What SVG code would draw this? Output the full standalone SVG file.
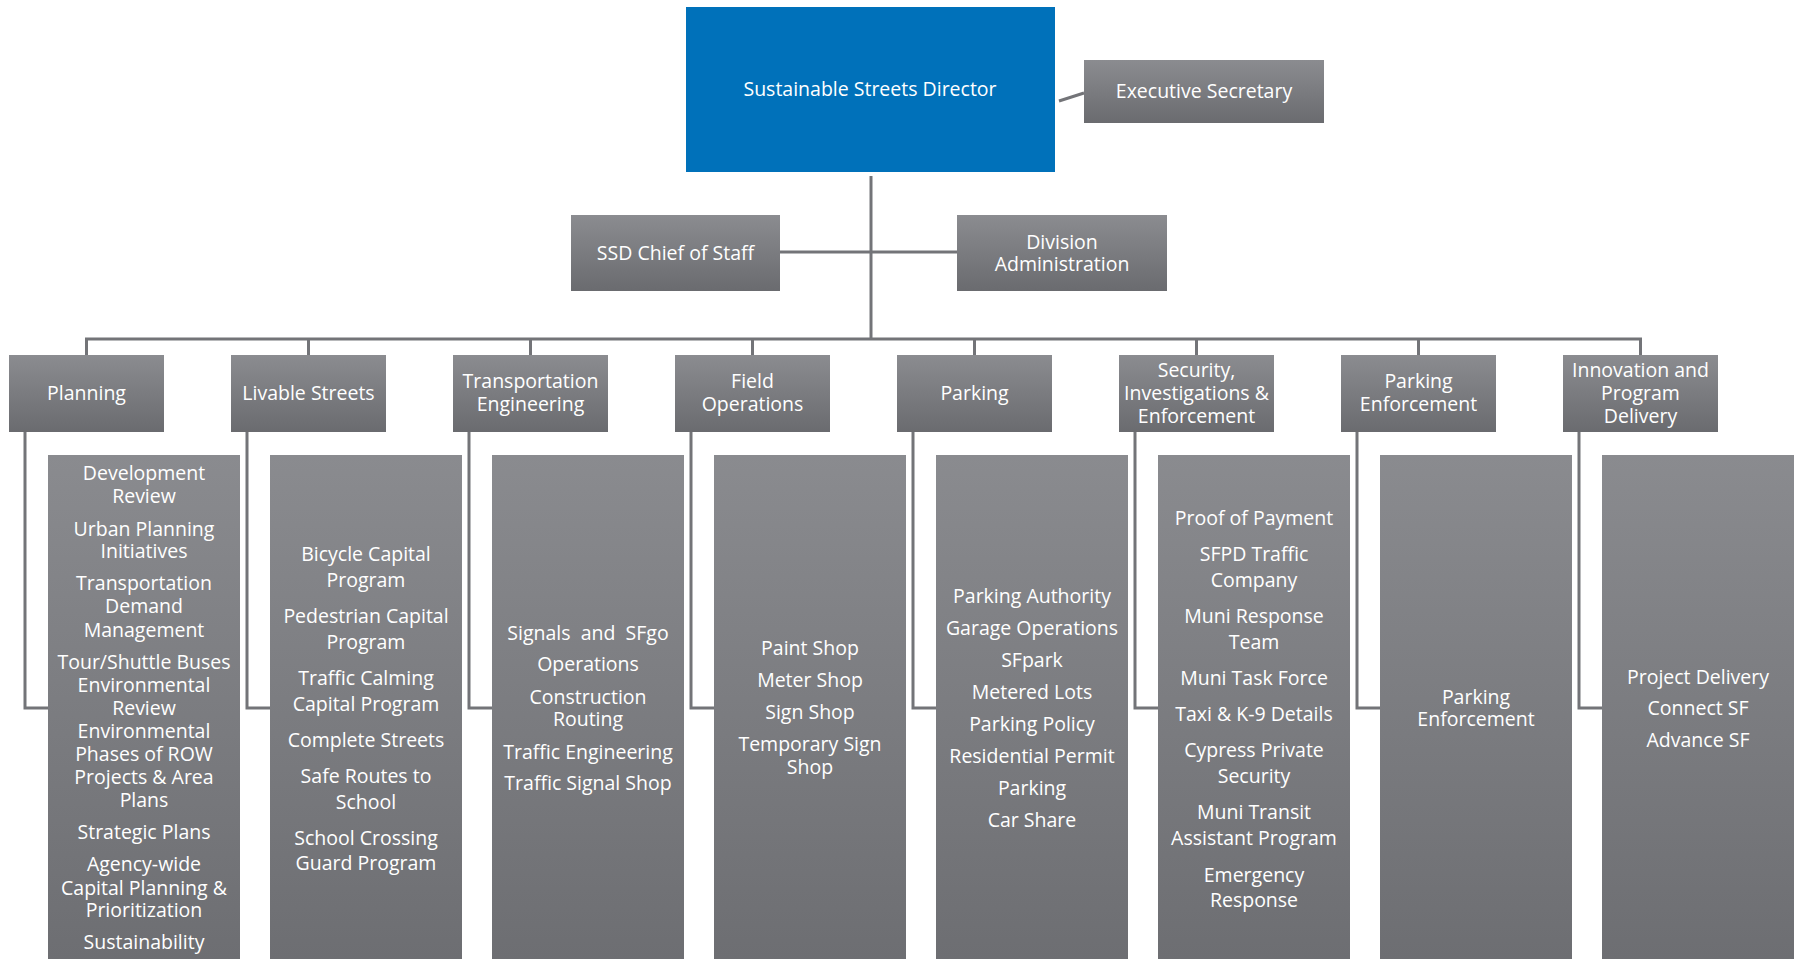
<svg xmlns="http://www.w3.org/2000/svg" width="1797" height="959" viewBox="0 0 1797 959">
<defs>
<linearGradient id="g" x1="0" y1="0" x2="0" y2="1">
<stop offset="0" stop-color="#8b8c90"/>
<stop offset="1" stop-color="#6a6b6f"/>
</linearGradient>
<linearGradient id="gd" x1="0" y1="0" x2="0" y2="1">
<stop offset="0" stop-color="#8a8b8f"/>
<stop offset="1" stop-color="#6d6e72"/>
</linearGradient>
</defs>
<style>
.box{fill:url(#g)}
.det{fill:url(#gd)}
.dir{fill:#0071ba}
text{font-family:"Open Sans","Noto Sans","Liberation Sans",sans-serif;font-size:19.5px;fill:#ffffff;text-anchor:middle}
.ln{fill:none;stroke:#737478;stroke-width:3}
.pre{white-space:pre}
</style>
<rect width="1797" height="959" fill="#ffffff"/>
<g id="connectors">
<path class="ln" d="M1059,101 L1084,93"/>
<path class="ln" d="M871,176 V339"/>
<path class="ln" d="M780,252 H957"/>
<path class="ln" d="M86.5,355 V339 H1640.5 V355"/>
<path class="ln" d="M308.5,339 V355 M530.5,339 V355 M752.5,339 V355 M974.5,339 V355 M1196.5,339 V355 M1418.5,339 V355"/>
<path class="ln" d="M25,432 V708 H48 M247,432 V708 H270 M469,432 V708 H492 M691,432 V708 H714 M913,432 V708 H936 M1135,432 V708 H1158 M1357,432 V708 H1380 M1579,432 V708 H1602"/>
</g>
<g id="director">
<rect class="dir" x="686" y="7" width="369" height="165"/>
<text x="870" y="96">Sustainable Streets Director</text>
</g>
<g id="executive-secretary">
<rect class="box" x="1084" y="60" width="240" height="63"/>
<text x="1204" y="98">Executive Secretary</text>
</g>
<g id="chief-of-staff">
<rect class="box" x="571" y="215" width="209" height="76"/>
<text x="675.5" y="260">SSD Chief of Staff</text>
</g>
<g id="division-administration">
<rect class="box" x="957" y="215" width="210" height="76"/>
<text x="1062" y="249">Division</text>
<text x="1062" y="271">Administration</text>
</g>
<g id="planning">
<rect class="box" x="9" y="355" width="155" height="77"/>
<text x="86.5" y="400">Planning</text>
<rect class="det" x="48" y="455" width="192" height="504"/>
<text x="144" y="480">Development</text>
<text x="144" y="503">Review</text>
<text x="144" y="536">Urban Planning</text>
<text x="144" y="558">Initiatives</text>
<text x="144" y="590">Transportation</text>
<text x="144" y="613">Demand</text>
<text x="144" y="637">Management</text>
<text x="144" y="669">Tour/Shuttle Buses</text>
<text x="144" y="692">Environmental</text>
<text x="144" y="715">Review</text>
<text x="144" y="738">Environmental</text>
<text x="144" y="761">Phases of ROW</text>
<text x="144" y="784">Projects &amp; Area</text>
<text x="144" y="807">Plans</text>
<text x="144" y="839">Strategic Plans</text>
<text x="144" y="871">Agency-wide</text>
<text x="144" y="895">Capital Planning &amp;</text>
<text x="144" y="917">Prioritization</text>
<text x="144" y="949">Sustainability</text>
</g>
<g id="livable-streets">
<rect class="box" x="231" y="355" width="155" height="77"/>
<text x="308.5" y="400">Livable Streets</text>
<rect class="det" x="270" y="455" width="192" height="504"/>
<text x="366" y="561">Bicycle Capital</text>
<text x="366" y="587">Program</text>
<text x="366" y="623">Pedestrian Capital</text>
<text x="366" y="649">Program</text>
<text x="366" y="685">Traffic Calming</text>
<text x="366" y="711">Capital Program</text>
<text x="366" y="747">Complete Streets</text>
<text x="366" y="783">Safe Routes to</text>
<text x="366" y="809">School</text>
<text x="366" y="845">School Crossing</text>
<text x="366" y="870">Guard Program</text>
</g>
<g id="transportation-engineering">
<rect class="box" x="453" y="355" width="155" height="77"/>
<text x="530.5" y="388">Transportation</text>
<text x="530.5" y="411">Engineering</text>
<rect class="det" x="492" y="455" width="192" height="504"/>
<text class="pre" x="588" y="640">Signals  and  SFgo</text>
<text x="588" y="671">Operations</text>
<text x="588" y="704">Construction</text>
<text x="588" y="726">Routing</text>
<text x="588" y="759">Traffic Engineering</text>
<text x="588" y="790">Traffic Signal Shop</text>
</g>
<g id="field-operations">
<rect class="box" x="675" y="355" width="155" height="77"/>
<text x="752.5" y="388">Field</text>
<text x="752.5" y="411">Operations</text>
<rect class="det" x="714" y="455" width="192" height="504"/>
<text x="810" y="655">Paint Shop</text>
<text x="810" y="687">Meter Shop</text>
<text x="810" y="719">Sign Shop</text>
<text x="810" y="751">Temporary Sign</text>
<text x="810" y="774">Shop</text>
</g>
<g id="parking">
<rect class="box" x="897" y="355" width="155" height="77"/>
<text x="974.5" y="400">Parking</text>
<rect class="det" x="936" y="455" width="192" height="504"/>
<text x="1032" y="603">Parking Authority</text>
<text x="1032" y="635">Garage Operations</text>
<text x="1032" y="667">SFpark</text>
<text x="1032" y="699">Metered Lots</text>
<text x="1032" y="731">Parking Policy</text>
<text x="1032" y="763">Residential Permit</text>
<text x="1032" y="795">Parking</text>
<text x="1032" y="827">Car Share</text>
</g>
<g id="security-investigations-enforcement">
<rect class="box" x="1119" y="355" width="155" height="77"/>
<text x="1196.5" y="377">Security,</text>
<text x="1196.5" y="400">Investigations &amp;</text>
<text x="1196.5" y="423">Enforcement</text>
<rect class="det" x="1158" y="455" width="192" height="504"/>
<text x="1254" y="525">Proof of Payment</text>
<text x="1254" y="561">SFPD Traffic</text>
<text x="1254" y="587">Company</text>
<text x="1254" y="623">Muni Response</text>
<text x="1254" y="649">Team</text>
<text x="1254" y="685">Muni Task Force</text>
<text x="1254" y="721">Taxi &amp; K-9 Details</text>
<text x="1254" y="757">Cypress Private</text>
<text x="1254" y="783">Security</text>
<text x="1254" y="819">Muni Transit</text>
<text x="1254" y="845">Assistant Program</text>
<text x="1254" y="882">Emergency</text>
<text x="1254" y="907">Response</text>
</g>
<g id="parking-enforcement">
<rect class="box" x="1341" y="355" width="155" height="77"/>
<text x="1418.5" y="388">Parking</text>
<text x="1418.5" y="411">Enforcement</text>
<rect class="det" x="1380" y="455" width="192" height="504"/>
<text x="1476" y="704">Parking</text>
<text x="1476" y="726">Enforcement</text>
</g>
<g id="innovation-program-delivery">
<rect class="box" x="1563" y="355" width="155" height="77"/>
<text x="1640.5" y="377">Innovation and</text>
<text x="1640.5" y="400">Program</text>
<text x="1640.5" y="423">Delivery</text>
<rect class="det" x="1602" y="455" width="192" height="504"/>
<text x="1698" y="684">Project Delivery</text>
<text x="1698" y="715">Connect SF</text>
<text x="1698" y="747">Advance SF</text>
</g>
</svg>
